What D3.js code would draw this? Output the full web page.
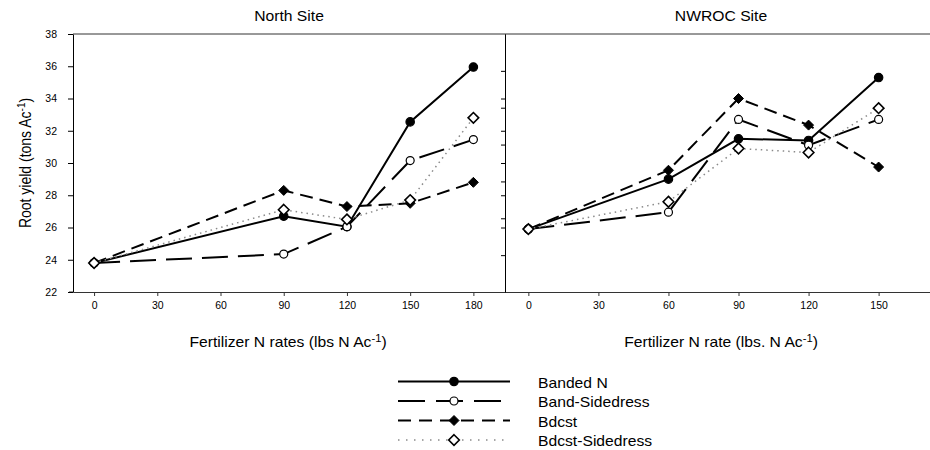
<!DOCTYPE html>
<html><head><meta charset="utf-8">
<script src="https://cdn.jsdelivr.net/npm/d3@7"></script>
<style>
body{margin:0;background:#fff}
text{font-family:"Liberation Sans",Arial,Helvetica,sans-serif;fill:#000}
</style>
</head><body><svg id="c" width="930" height="450" xmlns="http://www.w3.org/2000/svg"></svg>
<script>
// ---------- data ----------
const seriesNames = ["Banded N", "Band-Sidedress", "Bdcst", "Bdcst-Sidedress"];
const northRates = [0, 90, 120, 150, 180];
const northBandedN = [23.8, 26.7, 26.05, 32.55, 35.95];
const northBandSide = [23.8, 24.35, 26.05, 30.15, 31.45];
const northBdcst = [23.8, 28.3, 27.3, 27.5, 28.8];
const northBdcstSide = [23.8, 27.1, 26.5, 27.7, 32.8];
const nwrocRates = [0, 60, 90, 120, 150];
const nwrocBandedN = [25.9, 29.0, 31.5, 31.4, 35.3];
const nwrocBandSide = [25.9, 26.95, 32.7, 31.1, 32.7];
const nwrocBdcst = [25.9, 29.55, 34.0, 32.35, 29.75];
const nwrocBdcstSide = [25.9, 27.6, 30.9, 30.65, 33.4];
const yTicks = [22, 24, 26, 28, 30, 32, 34, 36, 38];
const northXTicks = [0, 30, 60, 90, 120, 150, 180];
const nwrocXTicks = [0, 30, 60, 90, 120, 150];
const rightMajorTicks = [26, 28, 30, 32, 34];
const rightMinorTicks = [1, 2, 3, 4, 5, 6];
const panelTitles = ["North Site", "NWROC Site"];

// ---------- styles ----------
const styles = [
  {dash: null, width: 2, color: "#000", marker: "circle", fill: "#000", ldash: null},
  {dash: "26,10", width: 2, color: "#000", marker: "circle", fill: "#fff", ldash: "27,11"},
  {dash: "13,7", width: 2, color: "#000", marker: "diamond", fill: "#000", ldash: "13,8"},
  {dash: "1.5,4", width: 1.5, color: "#8a8a8a", marker: "diamond", fill: "#fff", ldash: "1.5,6.5"}
];

const svg = d3.select("#c");
const FONT = "Liberation Sans, Arial, sans-serif";
const SX = 1.12;

const plotTop = 34, plotBottom = 292;
const y = d3.scaleLinear().domain([22, 38]).range([plotBottom, plotTop]);
const yMinor = d3.scaleLinear().domain([0, 7]).range([plotBottom, plotTop]);

const panels = [
  {x: d3.scaleLinear().domain([-10, 195]).range([73, 505]), rates: northRates,
   series: [northBandedN, northBandSide, northBdcst, northBdcstSide], ticks: northXTicks,
   title: panelTitles[0], xtitle: ["Fertilizer N rates (lbs N Ac", ")"], xtc: 288},
  {x: d3.scaleLinear().domain([-10, 175]).range([505, 937]), rates: nwrocRates,
   series: [nwrocBandedN, nwrocBandSide, nwrocBdcst, nwrocBdcstSide], ticks: nwrocXTicks,
   title: panelTitles[1], xtitle: ["Fertilizer N rate (lbs. N Ac", ")"], xtc: 721}
];

function stretchedText(g, x, yy, anchor, size) {
  return g.append("text")
    .attr("transform", `translate(${x},${yy}) scale(${SX},1)`)
    .attr("text-anchor", anchor)
    .style("font-size", size + "px");
}

function marker(g, type, fill, cx, cy) {
  if (type === "circle") {
    g.append("circle").attr("cx", cx).attr("cy", cy).attr("r", fill === "#000" ? 4.2 : 4)
      .attr("fill", fill).attr("stroke", "#000").attr("stroke-width", 1.2);
  } else {
    const h = fill === "#000" ? 5 : 5.3;
    g.append("path")
      .attr("d", `M${cx},${cy - h}L${cx + h},${cy}L${cx},${cy + h}L${cx - h},${cy}Z`)
      .attr("fill", fill).attr("stroke", "#000").attr("stroke-width", fill === "#000" ? 1 : 1.6);
  }
}

panels.forEach((p, pi) => {
  const g = svg.append("g");
  const [x0, x1] = p.x.range();
  g.append("line").attr("x1", x0).attr("x2", x1).attr("y1", plotTop).attr("y2", plotTop)
    .attr("stroke", "#333").attr("stroke-width", 1);
  const xa = g.append("g").attr("transform", `translate(0,${plotBottom})`)
    .call(d3.axisBottom(p.x).tickValues(p.ticks).tickSize(4).tickSizeOuter(0).tickPadding(6));
  xa.select(".domain").attr("stroke", "#333");
  xa.selectAll(".tick line").attr("stroke", "#333");
  xa.selectAll("text").style("font-size", "10.5px").style("font-family", FONT);
  if (pi === 0) {
    g.append("line").attr("x1", x0 - 4).attr("x2", x0).attr("y1", plotBottom).attr("y2", plotBottom)
      .attr("stroke", "#333");
  }

  p.series.forEach((vals, si) => {
    const st = styles[si];
    const pts = p.rates.map((r, i) => [p.x(r), y(vals[i])]);
    g.append("path").attr("d", d3.line()(pts)).attr("fill", "none")
      .attr("stroke", st.color).attr("stroke-width", st.width)
      .attr("stroke-dasharray", st.dash);
  });
  p.series.forEach((vals, si) => {
    const st = styles[si];
    p.rates.forEach((r, i) => marker(g, st.marker, st.fill, p.x(r), y(vals[i])));
  });

  stretchedText(g, (x0 + x1) / 2, 20.5, "middle", 14).text(p.title);
  const t = stretchedText(g, p.xtc, 347, "middle", 14);
  t.append("tspan").text(p.xtitle[0]);
  t.append("tspan").attr("dy", -5).style("font-size", "10px").text("-1");
  t.append("tspan").attr("dy", 5).text(p.xtitle[1]);
});

const ya = svg.append("g").attr("transform", "translate(73,0)")
  .call(d3.axisLeft(y).tickValues(yTicks).tickSize(5).tickSizeOuter(0).tickPadding(11));
ya.selectAll("text").style("font-size", "10.5px").style("font-family", FONT);

svg.append("g").attr("transform", "translate(505,0)")
  .call(d3.axisLeft(y).tickValues(rightMajorTicks).tickSize(4).tickSizeOuter(0).tickFormat(""));
svg.append("g").attr("transform", "translate(505,0)")
  .call(d3.axisLeft(yMinor).tickValues(rightMinorTicks).tickSize(4).tickSizeOuter(0).tickFormat(""));

const yt = svg.append("text")
  .attr("transform", `translate(31,163) rotate(-90) scale(1,${SX})`)
  .attr("text-anchor", "middle").style("font-size", "14px");
yt.append("tspan").text("Root yield (tons Ac");
yt.append("tspan").attr("dy", -5).style("font-size", "10px").text("-1");
yt.append("tspan").attr("dy", 5).text(")");

const legRows = [381.5, 401, 420.5, 440];
const lg = svg.append("g");
seriesNames.forEach((name, i) => {
  const st = styles[i];
  const ly = legRows[i];
  lg.append("line").attr("x1", 398).attr("x2", 510).attr("y1", ly).attr("y2", ly)
    .attr("stroke", st.color).attr("stroke-width", st.width)
    .attr("stroke-dasharray", st.ldash);
  marker(lg, st.marker, st.fill, 454, ly);
  stretchedText(lg, 538, ly + 6, "start", 14).text(name);
});
</script>
</body></html>
